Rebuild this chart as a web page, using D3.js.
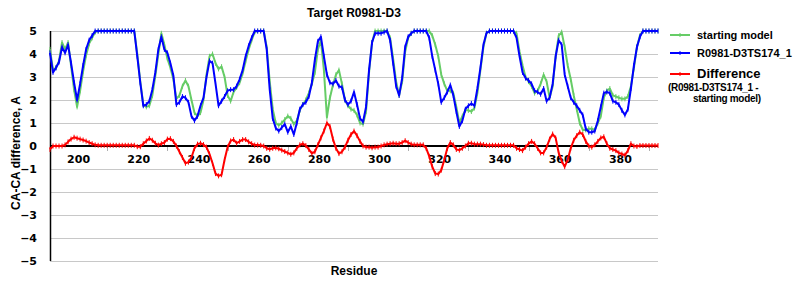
<!DOCTYPE html>
<html><head><meta charset="utf-8">
<script src="https://cdn.jsdelivr.net/npm/d3@7"></script>
<style>body{margin:0;background:#fff}svg{display:block}</style>
</head><body><svg id="c" width="800" height="300"></svg>
<script>
const firstResidue = 191;
const starting = [
4.2,3.3,3.4,3.7,4.5,4.2,4.5,3.5,2.45,1.7,
2.4,3.25,3.95,4.45,4.7,4.95,5,5,5,5,
5,5,5,5,5,5,5,5,5,4.0,
2.8,1.8,1.7,1.75,2.2,3.05,4.0,4.9,4.4,3.8,
3.4,2.9,2.05,2.2,2.6,2.85,2.6,2.0,1.45,1.3,
1.45,2.0,3.1,3.9,4.0,3.6,3.35,3.45,3.0,2.2,
1.95,2.35,2.55,2.75,3.15,3.7,4.2,4.6,4.95,5,
5,5,4.3,2.8,1.6,1.0,0.9,1.0,1.15,1.3,
1.2,0.95,1.1,1.55,1.8,2.0,2.3,2.7,3.2,4.2,
4.6,3.3,1.25,2.1,2.65,3.1,3.3,2.7,2.0,1.75,
1.6,1.55,1.35,1.0,0.95,1.5,3.2,4.5,5,5,
5,5,5,4.7,3.8,2.8,2.2,2.8,4.1,4.7,
4.9,5,5,5,5,5,5,4.8,4.4,3.9,
3.1,2.7,2.4,2.4,2.3,1.7,1.0,1.3,1.55,1.55,
1.5,1.65,2.3,3.3,4.3,4.9,5,5,5,5,
5,5,5,5,5,4.9,4.1,3.5,3.0,2.8,
2.6,2.3,2.4,2.7,3.1,2.8,2.1,2.6,3.9,4.8,
4.95,4.3,3.5,2.9,2.2,1.6,1.0,0.7,0.7,0.75,
0.75,0.7,1.0,1.3,2.1,2.4,2.5,2.2,2.15,2.1,
2.05,2.05,2.15,2.6,3.4,4.3,4.8,5,5,5,
5,5,5];
const model = [
4.05,3.2,3.4,3.65,4.3,4.05,4.4,3.6,2.75,2.0,
2.7,3.5,4.2,4.6,4.8,5,5,5,5,5,
5,5,5,5,5,5,5,5,5,3.9,
2.75,1.75,1.8,1.95,2.45,3.2,4.2,4.75,4.2,4.05,
3.6,3.05,1.8,1.9,2.15,2.1,1.9,1.3,1.1,1.3,
1.75,2.1,3.0,3.7,3.6,2.7,1.75,1.95,2.15,2.4,
2.45,2.45,2.6,2.9,3.3,3.9,4.35,4.7,5,5,
5,5,4.2,2.45,1.2,0.78,0.65,0.8,0.95,0.6,
0.85,0.5,1.0,1.6,1.8,1.9,2.15,2.75,3.75,4.55,
4.75,3.9,3.1,2.75,2.7,2.85,2.6,2.55,2.0,1.8,
1.95,2.35,1.8,1.2,1.05,1.7,3.3,4.5,4.9,4.9,
4.9,4.95,5,4.6,3.6,2.6,2.2,2.95,4.3,4.75,
4.9,5,5,5,5,5,4.7,3.9,3.3,2.7,
1.9,2.1,2.35,2.65,2.2,1.5,0.85,1.1,1.6,1.75,
1.85,1.75,2.5,3.4,4.4,4.9,5,5,5,5,
5,5,5,5,5,4.7,3.9,3.2,2.95,2.85,
2.7,2.4,2.35,2.25,2.5,1.95,2.1,2.7,3.9,4.6,
4.4,3.1,2.6,2.1,1.9,1.75,1.55,1.35,0.75,0.6,
0.6,0.65,1.1,1.7,2.3,2.35,2.3,1.95,1.9,1.8,
1.55,1.35,1.6,2.5,3.5,4.3,4.75,5,5,5,
5,5,5];
const difference = [
-0.15,0,0,0,0,0.05,0.18,0.3,0.38,0.34,
0.3,0.26,0.21,0.15,0.1,0.05,0.03,0.03,0.03,0.03,
0.03,0.03,0.03,0.03,0.03,0.03,0.03,0.03,0.03,-0.03,
-0.03,0.1,0.22,0.33,0.25,0.12,0.04,0.1,0.15,0.3,
0.32,0.2,0,-0.25,-0.5,-0.75,-0.7,-0.5,-0.1,0.08,
0.12,0.06,-0.05,-0.35,-0.75,-1.2,-1.3,-1.25,-0.6,-0.05,
0.22,0.28,0.12,0.2,0.28,0.28,0.18,0.1,0.04,0.04,
0.03,0,-0.1,-0.14,-0.1,-0.08,-0.12,-0.18,-0.24,-0.3,
-0.36,-0.3,-0.1,0.05,0.1,0.02,-0.15,-0.32,-0.25,0.05,
0.35,0.65,1.0,0.85,0.3,-0.1,-0.33,-0.25,-0.05,0.25,
0.5,0.65,0.45,0.2,0,-0.05,-0.05,-0.08,-0.05,-0.05,
0,0.05,0.08,0.1,0.12,0.1,0.1,0.15,0.23,0.15,
0.08,0.05,0.05,0.05,0.05,-0.1,-0.45,-0.9,-1.2,-1.22,
-1.05,-0.6,-0.1,0.15,0.05,-0.15,-0.18,-0.1,0,0.12,
0.12,0.08,0.08,0.08,0.06,0.03,0.03,0.03,0.03,0.03,
0.03,0.03,0.03,0.03,0.03,-0.1,-0.15,-0.2,-0.05,0.1,
0.2,0.1,-0.1,-0.3,-0.3,-0.05,0.3,0.52,0.35,-0.3,
-0.65,-0.9,-0.6,-0.1,0.25,0.45,0.6,0.5,0.2,0,
-0.05,0.05,0.2,0.35,0.4,0.1,-0.1,-0.15,-0.2,-0.3,
-0.35,-0.4,-0.2,0.1,0,-0.02,0.02,0.02,0.02,0.02,
0.02,0.02,0.02];
const yTicks = [5,4,3,2,1,0,-1,-2,-3,-4,-5];
const xLabelTicks = [200,220,240,260,280,300,320,340,360,380];
const xMinorTicks = [210,230,250,270,290,310,330,350,370,390];
const seriesNames = ["starting model","R0981-D3TS174_1","Difference"];
const colors = ["#66cc66","#0000ff","#ff0000"];

const residues = starting.map((_, i) => firstResidue + i);
const svg = d3.select("#c");
const x = d3.scaleLinear().domain([191, 393]).range([50, 658]);
const y = d3.scaleLinear().domain([-5, 5]).range([261, 31]);
const boldSans = "'Liberation Sans', Arial, sans-serif";
const tickFont = "'DejaVu Sans', sans-serif";

// gridlines
svg.append("g").selectAll("line").data(yTicks.filter(d => d !== 0)).join("line")
  .attr("x1", 50).attr("x2", 658).attr("y1", d => y(d)).attr("y2", d => y(d))
  .attr("stroke", "#c8c8c8").attr("stroke-width", 1).attr("shape-rendering", "crispEdges");

// x minor ticks
svg.append("g").selectAll("line").data(xMinorTicks).join("line")
  .attr("x1", d => Math.round(x(d)) + 0.5).attr("x2", d => Math.round(x(d)) + 0.5)
  .attr("y1", y(0)).attr("y2", y(0) + 5).attr("stroke", "#b0b0b0");

// zero line & y axis
svg.append("line").attr("x1", 50).attr("x2", 658).attr("y1", y(0)).attr("y2", y(0))
  .attr("stroke", "#000").attr("stroke-width", 1.2).attr("shape-rendering", "crispEdges");
svg.append("line").attr("x1", 50.5).attr("x2", 50.5).attr("y1", y(5)).attr("y2", y(-5))
  .attr("stroke", "#000").attr("stroke-width", 1.5);

// y labels
svg.append("g").selectAll("text").data(yTicks).join("text")
  .attr("x", 37).attr("y", d => y(d)).attr("dy", "0.36em").attr("text-anchor", "end")
  .attr("font-family", tickFont).attr("font-weight", "bold").attr("font-size", 11)
  .text(d => d < 0 ? "\u2212" + Math.abs(d) : d);

// x labels
svg.append("g").selectAll("text").data(xLabelTicks).join("text")
  .attr("x", d => x(d) + 1.5).attr("y", 163).attr("text-anchor", "middle")
  .attr("font-family", tickFont).attr("font-weight", "bold").attr("font-size", 11)
  .text(d => d);

// series
const line = d3.line().x((d, i) => x(residues[i])).y(d => y(d));
const allSeries = [starting, model, difference];
allSeries.forEach((s, k) => {
  const g = svg.append("g");
  g.append("path").datum(s).attr("d", line).attr("fill", "none")
    .attr("stroke", colors[k]).attr("stroke-width", 2).attr("stroke-linejoin", "round");
  g.selectAll("path.m").data(s).join("path").attr("class", "m")
    .attr("d", (d, i) => {
      const px = x(residues[i]), py = y(d);
      return `M${px},${py - 2.5}V${py + 2.5}`;
    })
    .attr("stroke", colors[k]).attr("stroke-width", 1);
});

// title
svg.append("text").attr("x", 354).attr("y", 17).attr("text-anchor", "middle")
  .attr("font-family", boldSans).attr("font-weight", "bold").attr("font-size", 12)
  .text("Target R0981-D3");
// x title
svg.append("text").attr("x", 354).attr("y", 275).attr("text-anchor", "middle")
  .attr("font-family", boldSans).attr("font-weight", "bold").attr("font-size", 12)
  .text("Residue");
// y title
svg.append("text").attr("transform", "translate(20,153) rotate(-90)").attr("text-anchor", "middle")
  .attr("font-family", boldSans).attr("font-weight", "bold").attr("font-size", 12)
  .text("CA-CA difference, A");

// legend
const legY = [35, 53, 74];
const leg = svg.append("g");
seriesNames.forEach((n, k) => {
  leg.append("line").attr("x1", 670).attr("x2", 690).attr("y1", legY[k]).attr("y2", legY[k])
    .attr("stroke", colors[k]).attr("stroke-width", 2);
  leg.append("path").attr("d", `M680,${legY[k] - 2}V${legY[k] + 2}`).attr("stroke", colors[k]);
  leg.append("text").attr("x", 697).attr("y", legY[k] + 4)
    .attr("font-family", boldSans).attr("font-weight", "bold").attr("font-size", k === 2 ? 13 : 11)
    .text(n);
});
leg.append("text").attr("x", 668).attr("y", 91)
  .attr("font-family", boldSans).attr("font-weight", "bold").attr("font-size", 10)
  .attr("letter-spacing", -0.3).text("(R0981-D3TS174_1 -");
leg.append("text").attr("x", 693).attr("y", 102)
  .attr("font-family", boldSans).attr("font-weight", "bold").attr("font-size", 10)
  .attr("letter-spacing", -0.3).text("starting model)");
</script></body></html>
